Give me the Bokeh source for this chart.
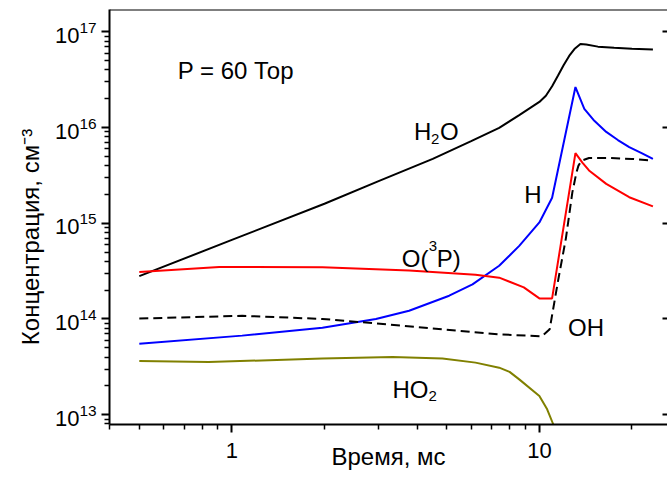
from bokeh.plotting import figure
from bokeh.models import Range1d, LogAxis, FixedTicker, Label, LogTickFormatter, BasicTickFormatter, Span
from bokeh.embed import file_html
from bokeh.resources import INLINE

# ---- data (time in ms, concentration in cm^-3) ----
t_h2o = [0.5, 1.0, 2.0, 3.0, 4.5, 6.0, 7.4, 8.6, 10.0, 10.5, 11.0, 11.5, 12.0, 12.5, 13.0, 13.6, 14.2, 15.5, 17.5, 20.0, 23.4]
h2o = [2.8e14, 6.7e14, 1.6e15, 2.75e15, 4.7e15, 7.2e15, 9.9e15, 1.35e16, 1.85e16, 2.15e16, 2.7e16, 3.5e16, 4.5e16, 5.6e16, 6.6e16, 7.45e16, 7.35e16, 7.0e16, 6.8e16, 6.65e16, 6.55e16]

t_h = [0.5, 1.08, 1.97, 2.94, 3.77, 5.09, 6.06, 7.4, 8.0, 8.6, 10.0, 11.0, 13.1, 14.0, 15.0, 16.5, 18.0, 19.6, 21.5, 23.4]
h = [5.5e13, 6.7e13, 8.1e13, 1.0e14, 1.22e14, 1.75e14, 2.3e14, 3.6e14, 4.6e14, 5.8e14, 1.02e15, 1.85e15, 2.65e16, 1.57e16, 1.2e16, 9.0e15, 7.4e15, 6.25e15, 5.4e15, 4.7e15]

t_o = [0.5, 0.91, 1.97, 3.77, 6.2, 7.4, 8.0, 8.9, 10.0, 11.0, 13.1, 13.8, 14.5, 16.5, 19.6, 23.4]
o3p = [3.1e14, 3.5e14, 3.46e14, 3.2e14, 2.9e14, 2.7e14, 2.45e14, 2.14e14, 1.64e14, 1.64e14, 5.4e15, 4.3e15, 3.56e15, 2.58e15, 1.87e15, 1.5e15]

t_oh = [0.5, 1.08, 1.97, 2.94, 4.84, 7.4, 10.2, 10.8, 11.5, 12.2, 12.8, 13.2, 13.4, 13.7, 14.5, 17.0, 20.0, 23.4]
oh = [1.01e14, 1.08e14, 1.0e14, 9.0e13, 7.8e13, 6.9e13, 6.6e13, 7.8e13, 2.5e14, 7.0e14, 2.1e15, 3.4e15, 4.0e15, 4.5e15, 4.8e15, 4.8e15, 4.7e15, 4.5e15]

t_ho2 = [0.5, 0.84, 1.97, 3.33, 4.84, 6.2, 7.4, 8.0, 8.6, 10.0, 10.6, 11.1, 11.3]
ho2 = [3.64e13, 3.55e13, 3.86e13, 4.0e13, 3.86e13, 3.5e13, 3.1e13, 2.8e13, 2.34e13, 1.57e13, 1.14e13, 7.9e12, 6.5e12]

x_major_ticks = [1, 10]
x_minor_ticks = [0.4, 0.5, 0.6, 0.7, 0.8, 0.9, 2, 3, 4, 5, 6, 7, 8, 9, 20]
y_major_ticks = [1e13, 1e14, 1e15, 1e16, 1e17]
y_minor_ticks = [m * 10.0 ** e for e in range(12, 17) for m in range(2, 10)]

X_MIN, X_MAX = 0.4, 26.1
Y_MIN, Y_MAX = 7.9e12, 1.71e17

FONT = "Liberation Sans"

p = figure(width=667, height=477, x_axis_type="log", y_axis_type="log",
           x_range=Range1d(X_MIN, X_MAX), y_range=Range1d(Y_MIN, Y_MAX),
           output_backend="svg", toolbar_location=None,
           min_border_left=109, min_border_right=0, min_border_top=9, min_border_bottom=53)
p.outline_line_color = None
p.grid.visible = False

# bottom axis
xa = p.xaxis[0]
xa.ticker = FixedTicker(ticks=x_major_ticks, minor_ticks=x_minor_ticks)
xa.formatter = BasicTickFormatter()
xa.axis_label = "Время, мс"
xa.axis_label_text_font = FONT
xa.axis_label_text_font_size = "24px"
xa.axis_label_text_font_style = "normal"
xa.axis_label_text_color = "black"
xa.axis_label_standoff = -18
xa.major_label_text_font = FONT
xa.major_label_text_font_size = "22px"
xa.major_label_text_color = "black"
xa.major_label_standoff = 10
xa.axis_line_width = 2
xa.major_tick_line_width = 2
xa.minor_tick_line_width = 1.5
xa.major_tick_in = 0
xa.major_tick_out = 8
xa.minor_tick_in = 0
xa.minor_tick_out = 5

# left axis
ya = p.yaxis[0]
ya.ticker = FixedTicker(ticks=y_major_ticks, minor_ticks=y_minor_ticks)
ya.formatter = LogTickFormatter()
ya.axis_label = "Концентрация, см⁻³" + "\u00a0" * 6
ya.axis_label_text_font = FONT
ya.axis_label_text_font_size = "24px"
ya.axis_label_text_font_style = "normal"
ya.axis_label_text_color = "black"
ya.axis_label_standoff = 8
ya.major_label_text_font = FONT
ya.major_label_text_font_size = "22px"
ya.major_label_text_color = "black"
ya.major_label_standoff = 5
ya.axis_line_width = 2
ya.major_tick_line_width = 2
ya.minor_tick_line_width = 1.5
ya.major_tick_in = 0
ya.major_tick_out = 8
ya.minor_tick_in = 0
ya.minor_tick_out = 5

# right axis (ticks only, its spine lies beyond the image)
ra = LogAxis(ticker=FixedTicker(ticks=y_major_ticks), major_tick_in=5, major_tick_out=0,
             minor_tick_in=0, minor_tick_out=0, axis_line_color=None,
             major_tick_line_width=2, major_label_text_font_size="1px",
             major_label_text_color=None, major_label_standoff=0)
p.add_layout(ra, "right")

# top spine
p.add_layout(Span(location=Y_MAX, dimension="width", line_color="black", line_width=2))

p.line(t_h2o, h2o, line_color="black", line_width=2)
p.line(t_h, h, line_color="#0000ff", line_width=2)
p.line(t_o, o3p, line_color="#ff0000", line_width=2)
p.line(t_oh, oh, line_color="black", line_width=2, line_dash="9 5")
p.line(t_ho2, ho2, line_color="#808000", line_width=2)

def lab(x, y, text, size="24px", dx=0, dy=0):
    p.add_layout(Label(x=x, y=y, text=text, x_offset=dx, y_offset=dy,
                       text_font=FONT, text_font_size=size, text_baseline="alphabetic",
                       text_color="black"))

lab(0.667, 3.94e16, "P = 60 Тор")
# H2O
lab(3.91, 9.0e15, "H")
lab(3.91, 9.0e15, "2", size="15px", dx=17, dy=-7)
lab(3.91, 9.0e15, "O", dx=26)
# H
lab(8.93, 1.98e15, "H")
# O(3P)
lab(3.57, 4.3e14, "O(")
lab(3.57, 4.3e14, "3", size="15px", dx=27, dy=12)
lab(3.57, 4.3e14, "P)", dx=35)
# OH
lab(12.4, 8.2e13, "OH")
# HO2
lab(3.33, 1.85e13, "HO")
lab(3.33, 1.85e13, "2", size="15px", dx=36, dy=-7)

open("out.html", "w").write(file_html(p, INLINE))
